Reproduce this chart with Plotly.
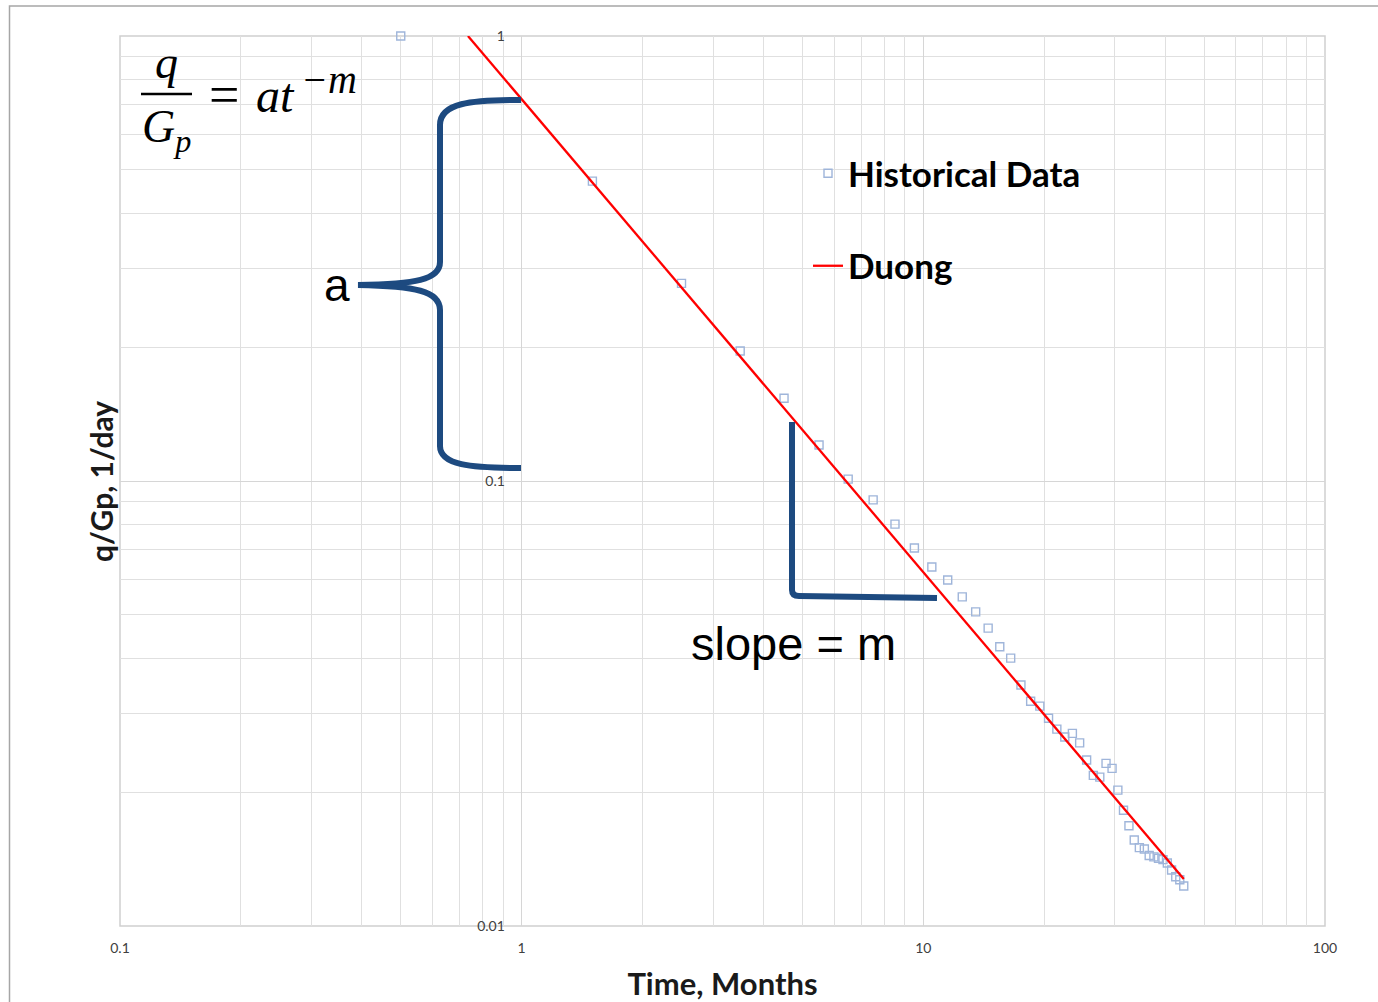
import plotly.graph_objects as go

# ---------------- data ----------------
hist_t = [0.5, 1.5, 2.5, 3.5, 4.5, 5.5, 6.5, 7.5, 8.5, 9.5, 10.5, 11.5, 12.5, 13.5,
          14.5, 15.5, 16.5, 17.5, 18.5, 19.5, 20.5, 21.5, 22.5, 23.5, 24.5, 25.5,
          26.5, 27.5, 28.5, 29.5, 30.5, 31.5, 32.5, 33.5, 34.5, 35.5, 36.5, 37.5,
          38.5, 39.5, 40.5, 41.5, 42.5, 43.5, 44.5]
hist_q = [1.0, 0.472, 0.278, 0.196, 0.1534, 0.1205, 0.101, 0.0907, 0.080, 0.0707,
          0.0641, 0.0599, 0.0549, 0.0508, 0.0467, 0.0424, 0.0400, 0.0348, 0.0320,
          0.0312, 0.0293, 0.0277, 0.0266, 0.0271, 0.0258, 0.0236, 0.0218, 0.0216,
          0.0232, 0.0226, 0.0202, 0.0182, 0.0168, 0.0156, 0.0150, 0.0149, 0.0144,
          0.0143, 0.0142, 0.0141, 0.01385, 0.01336, 0.0129, 0.0127, 0.0123]

duong_t = [0.735, 44.5]
duong_q = [1.0, 0.01276]

x_tickvals = [0.1, 1, 10, 100]
x_ticktext = ["0.1", "1", "10", "100"]
y_tickvals = [0.01, 0.1, 1]
y_ticktext = ["0.01", "0.1", "1"]

# ---------------- layout geometry (pixels) ----------------
W, H = 1378, 1002
L, R, T, B = 120, 1325, 36, 926


def px(x):
    return (x - L) / (R - L)


def py(y):
    return (B - y) / (B - T)


def path(cmds):
    out = []
    for c in cmds:
        if isinstance(c, str):
            out.append(c)
        else:
            out.append(f"{px(c[0]):.5f},{py(c[1]):.5f}")
    return " ".join(out)


fig = go.Figure()

fig.add_trace(go.Scatter(
    x=hist_t, y=hist_q, mode="markers", name="Historical Data",
    marker=dict(symbol="square-open", size=8, color="#9fb5da", line=dict(width=1.4)),
    cliponaxis=False, legendgroup="h", showlegend=True,
))
fig.add_trace(go.Scatter(
    x=duong_t, y=duong_q, mode="lines", name="Duong",
    line=dict(color="#ff0000", width=2.3), legendgroup="d",
))

grid_major = "#d6d6d6"
grid_minor = "#e0e0e0"

fig.update_layout(
    width=W, height=H, autosize=False,
    margin=dict(l=L, r=W - R, t=T, b=H - B, autoexpand=False),
    paper_bgcolor="white", plot_bgcolor="white",
    font=dict(family="Lato", color="#404040"),
    showlegend=True,
    legend=dict(
        x=px(808), y=py(144), xanchor="left", yanchor="top",
        font=dict(family="Lato", size=35, color="#000000", weight="bold"),
        bgcolor="rgba(0,0,0,0)", tracegroupgap=44,
        itemwidth=30,
    ),
    xaxis=dict(
        type="log", range=[-1, 2], automargin=False,
        tickvals=x_tickvals, ticktext=x_ticktext,
        ticks="outside", ticklen=9, tickcolor="rgba(0,0,0,0)",
        tickfont=dict(family="Lato", size=14, color="#404040"),
        showgrid=True, gridcolor=grid_major, gridwidth=1,
        minor=dict(dtick="D1", showgrid=True, gridcolor=grid_minor, gridwidth=1, ticks=""),
        showline=False, zeroline=False,
        title=dict(text="<b>Time, Months</b>", font=dict(family="Lato", size=31, color="#1a1a1a"),
                   standoff=18),
    ),
    yaxis=dict(
        type="log", range=[-2, 0], anchor="free", position=1/3, automargin=False,
        tickvals=y_tickvals, ticktext=y_ticktext,
        ticks="outside", ticklen=14, tickcolor="rgba(0,0,0,0)",
        tickfont=dict(family="Lato", size=14, color="#404040"),
        showgrid=True, gridcolor=grid_major, gridwidth=1,
        minor=dict(dtick="D1", showgrid=True, gridcolor=grid_minor, gridwidth=1, ticks=""),
        showline=False, zeroline=False,
    ),
)

shapes = []
# plot area frame
shapes.append(dict(type="rect", xref="paper", yref="paper", x0=0, y0=0, x1=1, y1=1,
                   line=dict(color="#d0d0d0", width=1.5), layer="below"))
# outer border of the chart picture
shapes.append(dict(type="rect", xref="paper", yref="paper",
                   x0=px(9.5), y0=py(1030), x1=px(1400), y1=py(6),
                   line=dict(color="#a6a6a6", width=1.5)))

blue = "#1d4a80"
# brace for "a"
brace = path(["M", (521, 100),
              "C", (470, 100), (440, 103), (440, 125),
              "L", (440, 262),
              "C", (440, 280), (415, 284), (358, 285),
              "C", (415, 286), (440, 291), (440, 310),
              "L", (440, 446),
              "C", (440, 465), (470, 468), (521, 468)])
shapes.append(dict(type="path", xref="paper", yref="paper", path=brace,
                   line=dict(color=blue, width=6)))
# slope triangle
tri = path(["M", (792, 422), "L", (792, 590),
            "Q", (792, 596), (799, 596), "L", (937, 598)])
shapes.append(dict(type="path", xref="paper", yref="paper", path=tri,
                   line=dict(color=blue, width=6)))
# fraction bar
shapes.append(dict(type="line", xref="paper", yref="paper",
                   x0=px(141), y0=py(94), x1=px(192), y1=py(94),
                   line=dict(color="black", width=2.5)))
fig.update_layout(shapes=shapes)

serif = "Liberation Serif"
ann = []


def add_text(text, x, y, size, family, xanchor="center", yanchor="middle", color="black",
             angle=0):
    ann.append(dict(text=text, x=px(x), y=py(y), xref="paper", yref="paper",
                    xanchor=xanchor, yanchor=yanchor, showarrow=False, textangle=angle,
                    font=dict(size=size, family=family, color=color)))


add_text("<i>q</i>", 166, 62, 46, serif)
add_text("<i>G<sub>p</sub></i>", 166, 130, 46, serif)
add_text("=", 224, 95, 54, serif)
add_text("<i>at</i>", 254, 95, 48, serif, xanchor="left")
add_text("<i>−m</i>", 299, 79, 40, serif, xanchor="left")
add_text("a", 337, 285, 46, "Liberation Sans")
add_text("slope = m", 793, 643, 47, "Liberation Sans")
add_text("<b>q/Gp, 1/day</b>", 101, 482, 30, "Lato", color="#1a1a1a", angle=-90)
fig.update_layout(annotations=ann)

fig.write_html("out.html")
